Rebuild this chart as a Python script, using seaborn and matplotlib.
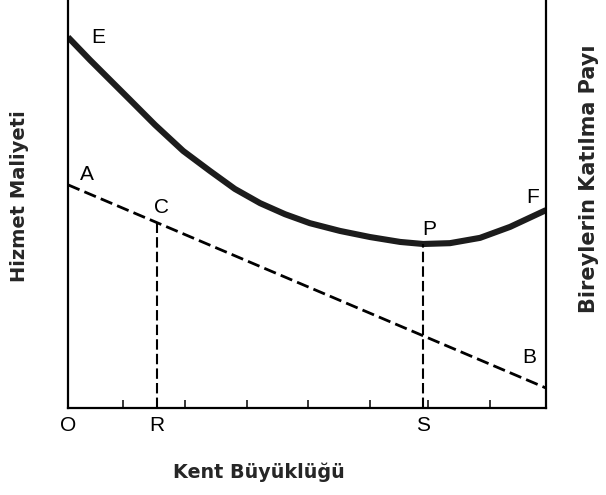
import matplotlib
matplotlib.use("Agg")
import matplotlib.pyplot as plt
import seaborn as sns
import pandas as pd

sns.set_style("white")
plt.rcParams['font.family'] = ['Liberation Sans', 'DejaVu Sans']

# service cost curve E-P-F (city size 0..100, cost 0..100)
curve_x = [0, 4.6, 8.8, 13.0, 18.2, 24.1, 29.7, 34.9, 40.2, 45.4, 50.6,
           56.9, 63.2, 69.5, 74.3, 79.9, 86.2, 92.5, 100]
curve_y = [90.9, 85.3, 80.4, 75.5, 69.4, 63.0, 58.1, 53.7, 50.2, 47.5, 45.3,
           43.4, 41.9, 40.7, 40.2, 40.4, 41.7, 44.4, 48.5]

# contribution line A-B
line_x = [0, 100]
line_y = [54.7, 4.9]

# points R and S on the size axis, with C and P above them
r_x = 18.6
s_x = 74.3
c_y = 45.8
p_y = 40.2

minor_ticks = [11.5, 24.5, 37.4, 50.2, 63.2, 75.3, 88.3]

curve = pd.DataFrame({"size": curve_x, "cost": curve_y})
share = pd.DataFrame({"size": line_x, "cost": line_y})

fig = plt.figure(figsize=(6.06, 4.95), dpi=100)
ax = fig.add_axes([68/606, 87/495, 478/606, 408/495])

sns.lineplot(data=curve, x="size", y="cost", ax=ax, color="#1c1c1c", linewidth=4.4,
             solid_capstyle="butt")
sns.lineplot(data=share, x="size", y="cost", ax=ax, color="black", linewidth=2.0,
             linestyle=(0, (4.5, 1.9)))
ax.plot([r_x, r_x], [0, c_y], color="black", linewidth=1.5, linestyle=(0, (5, 2)))
ax.plot([s_x, s_x], [0, p_y], color="black", linewidth=1.5, linestyle=(0, (5, 2)))

ax.set_xlim(0, 100)
ax.set_ylim(0, 100)
ax.set_xlabel("")
ax.set_ylabel("")
sns.despine(ax=ax, top=True, right=False)
for side in ["left", "bottom", "right"]:
    ax.spines[side].set_color("black")
    ax.spines[side].set_linewidth(1.6)

ax.set_xticks([0, r_x, s_x])
ax.set_xticklabels(["O", "R", "S"], fontsize=15, color="black")
ax.set_xticks(minor_ticks, minor=True)
ax.tick_params(axis="x", which="major", length=0, pad=6)
ax.tick_params(axis="x", which="minor", direction="in", length=6, width=1.3, bottom=True)
ax.set_yticks([])

title_font = dict(family="DejaVu Sans", fontweight="bold", ha="center", va="center")
fig.text(259/606, 1 - 472/495, "Kent Büyüklüğü", fontsize=13.8, **title_font)
fig.text(20/606, 1 - 196/495, "Hizmet Maliyeti", fontsize=14, rotation=90, **title_font)
fig.text(589/606, 1 - 179/495, "Bireylerin Katılma Payı", fontsize=15, rotation=90,
         **title_font)

labels = {"E": (6.3, 89.5), "A": (4.0, 55.9), "C": (19.5, 47.8), "P": (75.5, 42.4),
          "F": (97.1, 50.2), "B": (96.6, 11.0)}
for name, (lx, ly) in labels.items():
    ax.text(lx, ly, name, fontsize=15, color="black", ha="center", va="baseline")

fig.savefig("out.png", dpi=100)
